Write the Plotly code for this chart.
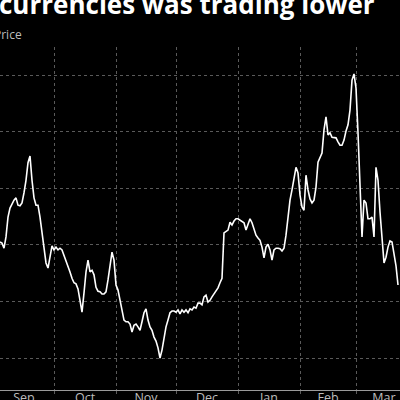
import pandas as pd
import plotly.graph_objects as go

TITLE = "currencies was trading lower"
SUBTITLE = "Price"
START_DATE = "2022-09-04"

# daily closing values
prices = [
    30.5, 30.3, 29.4, 31.4, 34.9, 36.5, 37.2, 37.9, 38.3, 37.0,
    36.9, 37.4, 39.2, 41.4, 44.5, 45.7, 41.4, 38.3, 37.0, 37.0,
    34.9, 32.1, 28.6, 26.8, 25.9, 27.7, 29.8, 29.1, 29.6, 29.1,
    29.4, 29.1, 28.2, 27.1, 26.4, 25.2, 24.1, 23.3, 23.1, 22.2,
    20.2, 18.1, 21.5, 25.2, 27.3, 25.2, 25.5, 24.7, 22.5, 21.8,
    21.7, 21.3, 21.3, 21.7, 23.8, 25.9, 28.7, 27.3, 22.9, 22.0,
    20.2, 18.0, 16.7, 16.4, 16.4, 16.0, 14.6, 15.8, 16.0, 15.5,
    14.9, 16.4, 18.0, 18.7, 16.7, 15.5, 14.9, 13.7, 13.0, 11.8,
    10.0, 11.4, 13.5, 15.5, 16.7, 18.0, 18.3, 18.3, 18.1, 18.5,
    17.8, 18.5, 18.1, 18.5, 18.0, 18.7, 18.5, 19.0, 18.8, 19.7,
    19.7, 19.4, 20.8, 21.1, 19.9, 20.2, 20.8, 21.3, 21.8, 22.4,
    23.3, 24.1, 32.1, 32.3, 32.6, 34.0, 33.5, 34.2, 34.6, 34.6,
    34.4, 34.2, 33.9, 32.6, 33.5, 34.6, 33.9, 32.6, 31.7, 31.2,
    30.8, 29.6, 27.7, 29.6, 30.1, 29.1, 27.3, 29.1, 29.4, 29.4,
    29.3, 28.9, 29.4, 31.7, 34.9, 37.9, 39.7, 41.4, 43.7, 42.7,
    38.8, 36.7, 36.1, 42.3, 39.7, 38.1, 37.4, 37.9, 40.2, 44.6,
    45.3, 46.2, 50.3, 52.6, 49.4, 49.8, 49.0, 49.0, 48.9, 48.2,
    47.6, 47.6, 48.5, 50.1, 51.2, 53.8, 59.1, 60.2, 57.7, 49.8,
    42.0, 31.4, 37.9, 37.4, 34.6, 34.6, 34.9, 31.4, 43.7, 41.4,
    35.8, 31.4, 26.8, 27.8, 29.6, 30.7, 30.5, 28.4, 26.3, 22.9,
]
dates = pd.date_range(START_DATE, periods=len(prices), freq="D")

X_RANGE = ["2022-09-04", "2023-03-23"]
Y_RANGE = [4.35, 64.95]
GRID_VALUES = [10, 20, 30, 40, 50, 60]

GRID = "#5a5a5a"
TEXT = "#bdbdbd"

fig = go.Figure()
fig.add_trace(go.Scatter(
    x=dates, y=prices,
    mode="lines",
    line=dict(color="#ffffff", width=1.6),
    showlegend=False,
    hoverinfo="skip",
))

fig.update_layout(
    width=400,
    height=400,
    margin=dict(l=0, r=0, t=47, b=10, autoexpand=False),
    paper_bgcolor="#000000",
    plot_bgcolor="#000000",
    font=dict(family="Open Sans, sans-serif", color=TEXT, size=12),
    xaxis=dict(
        range=X_RANGE,
        type="date",
        dtick="M1",
        tick0="2022-09-01",
        tickformat="%b",
        ticklabelmode="period",
        showgrid=True,
        gridcolor=GRID,
        griddash="dot",
        gridwidth=1,
        showline=True,
        linecolor="#9a9a9a",
        linewidth=1,
        ticks="outside",
        ticklen=3,
        tickcolor=GRID,
        tickfont=dict(color=TEXT, size=12.5),
        ticklabelstandoff=-7,
        automargin=False,
        zeroline=False,
    ),
    yaxis=dict(
        range=Y_RANGE,
        tickmode="array",
        tickvals=GRID_VALUES,
        showticklabels=False,
        showgrid=True,
        gridcolor=GRID,
        griddash="dot",
        gridwidth=1,
        automargin=False,
        zeroline=False,
    ),
    annotations=[
        dict(
            text=TITLE, xref="paper", yref="paper", x=0, y=1.126,
            xanchor="left", yanchor="middle", xshift=-3, showarrow=False,
            font=dict(family="Open Sans, sans-serif", size=26, color="#ffffff", weight=700),
        ),
        dict(
            text=SUBTITLE, xref="paper", yref="paper", x=0, y=1.037,
            xanchor="left", yanchor="middle", xshift=-8, showarrow=False,
            font=dict(family="Open Sans, sans-serif", size=12, color=TEXT),
        ),
    ],
)

fig.write_html(
    "out.html",
    config={"displayModeBar": False},
    post_script="document.body.style.margin='0';document.body.style.overflow='hidden';",
)
